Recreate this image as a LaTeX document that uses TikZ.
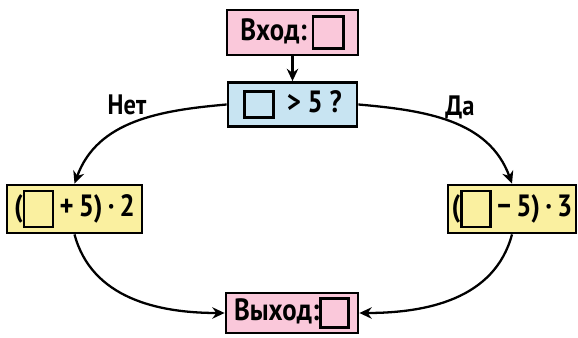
\documentclass[tikz,border=0pt]{standalone}
\usepackage{fontspec}
\setmainfont[FakeStretch=0.87]{PT Sans}
\usetikzlibrary{arrows.meta}
\definecolor{inpink}{RGB}{250,200,218}
\definecolor{askblue}{RGB}{200,228,242}
\definecolor{calcyellow}{RGB}{250,240,160}
% empty square: fill colour, outer width, outer height
\newcommand{\blank}[3]{\raisebox{\dimexpr 6pt-#3/2\relax}{\setlength{\fboxrule}{1.5pt}\setlength{\fboxsep}{0pt}\fcolorbox{black}{#1}{\rule{0pt}{\dimexpr #3-3pt\relax}\hspace{\dimexpr #2-3pt\relax}}}}
\tikzset{
    block/.style={draw=black, line width=1.6pt, inner sep=0pt, font=\bfseries\fontsize{17.5}{20}\selectfont},
    flow/.style={line width=1.3pt, -{Stealth[length=7pt,width=6.5pt]}},
    answer/.style={font=\bfseries\fontsize{16}{18}\selectfont}
}
\begin{document}
\begin{tikzpicture}[x=0.02cm, y=-0.02cm]
    \useasboundingbox (0,0) rectangle (578,338);
    % boxes
    \node[block, fill=inpink, minimum width=2.62cm, minimum height=0.9cm] (input) at (292.5,32.5) {Вход:\,\blank{inpink}{18.7pt}{20pt}};
    \node[block, fill=askblue, minimum width=2.58cm, minimum height=0.88cm] (ask) at (292.5,104.5) {\blank{askblue}{18pt}{16pt}\, > 5 ?};
    \node[block, fill=calcyellow, minimum width=2.7cm, minimum height=0.96cm] (calcno) at (74.5,209) {(\blank{calcyellow}{18pt}{22pt}\,+\,5)\,·\,2};
    \node[block, fill=calcyellow, minimum width=2.56cm, minimum height=0.96cm] (calcyes) at (512,209) {(\blank{calcyellow}{18pt}{22pt}\,−\,5)\,·\,3};
    \node[block, fill=inpink, minimum width=2.64cm, minimum height=0.8cm] (output) at (292,313) {Выход:\blank{inpink}{17.5pt}{18pt}};
    % labels
    \node[answer] (no) at (127,105) {Нет};
    \node[answer] (yes) at (460,107) {Да};
    % arrows
    \draw[flow] (input) -- (ask);
    \draw[flow] (ask.west) to[out=185, in=70] (calcno.north);
    \draw[flow] (ask.east) to[out=-5, in=110] (calcyes.north);
    \draw[flow] (calcno.south) to[out=-75, in=180] (output.west);
    \draw[flow] (calcyes.south) to[out=-105, in=0] (output.east);
\end{tikzpicture}
\end{document}
